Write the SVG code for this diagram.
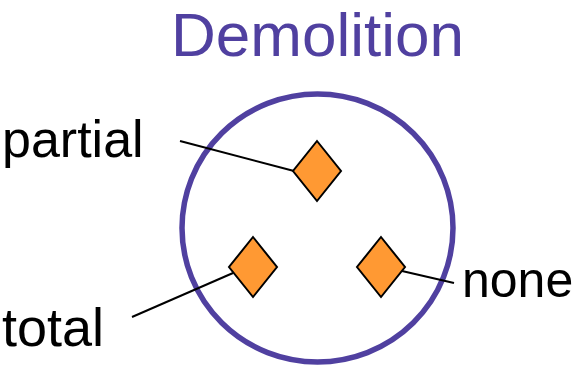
<svg xmlns="http://www.w3.org/2000/svg" width="579" height="368" viewBox="0 0 579 368">
<style>
.lbl{font-family:"Liberation Sans",Arial,sans-serif;font-size:52px;fill:#000}
.title{font-family:"Liberation Sans",Arial,sans-serif;font-size:62px;fill:#5040A0}
.dia{fill:#FF9933;stroke:#000;stroke-width:2;stroke-linejoin:miter}
.ln{stroke:#000;stroke-width:2;fill:none}
</style>
<rect width="579" height="368" fill="#fff"/>
<text class="title" x="171" y="56">Demolition</text>
<g id="circle"><ellipse cx="317.5" cy="228" rx="135.5" ry="134" fill="none" stroke="#5040A0" stroke-width="5.5"/></g>
<g id="connectors">
<line class="ln" x1="180" y1="141" x2="294" y2="171"/>
<line class="ln" x1="132" y1="317" x2="233" y2="273"/>
<line class="ln" x1="402" y1="271" x2="454" y2="283"/>
</g>
<g id="partial"><polygon class="dia" points="317,141 341,171 317,201 293,171"/><text class="lbl" x="2" y="157">partial</text></g>
<g id="total"><polygon class="dia" points="253,237 277,267 253,297 229,267"/><text class="lbl" x="2" y="346" style="font-size:54px">total</text></g>
<g id="none"><polygon class="dia" points="381,237 405,267 381,297 357,267"/><text class="lbl" x="462" y="297" style="font-size:50px">none</text></g>
</svg>
